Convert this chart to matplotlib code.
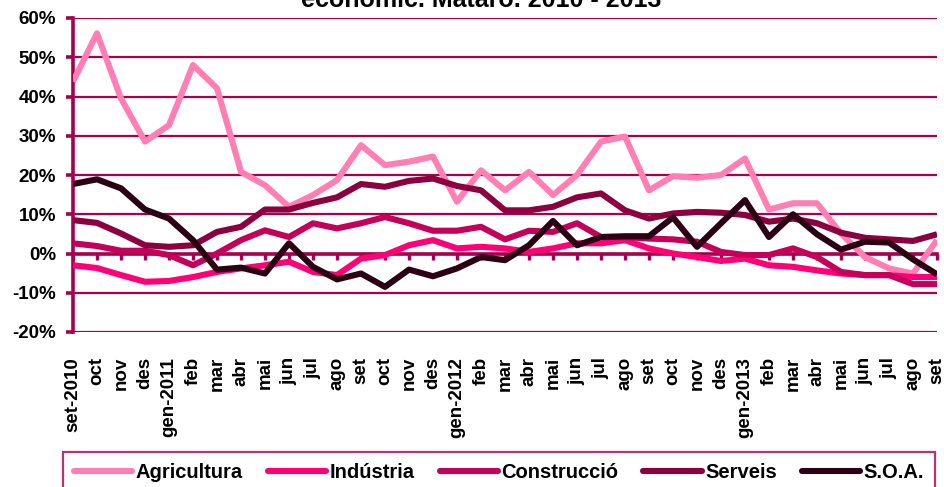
import matplotlib
matplotlib.use("Agg")
import matplotlib.pyplot as plt
from matplotlib.lines import Line2D

plt.rcParams['font.family'] = ['Liberation Sans', 'DejaVu Sans']
plt.rcParams['font.weight'] = 'bold'

months = ["set-2010", "oct", "nov", "des", "gen-2011", "feb", "mar", "abr", "mai", "jun",
          "jul", "ago", "set", "oct", "nov", "des", "gen-2012", "feb", "mar", "abr", "mai",
          "jun", "jul", "ago", "set", "oct", "nov", "des", "gen-2013", "feb", "mar", "abr",
          "mai", "jun", "jul", "ago", "set"]

agricultura = [43.8, 56.1, 39.5, 28.5, 32.7, 48.0, 42.1, 20.8, 17.4, 11.9,
               14.9, 18.7, 27.6, 22.5, 23.4, 24.7, 13.2, 21.2, 16.1, 20.8,
               14.9, 20.0, 28.5, 29.8, 16.1, 19.7, 19.3, 20.0, 24.2, 11.2,
               12.8, 12.8, 5.1, -0.9, -3.8, -5.1, 3.4]
industria = [-3.0, -3.7, -5.5, -7.2, -7.0, -6.0, -4.7, -3.8, -3.0, -2.1,
             -4.7, -5.5, -1.3, -0.4, 2.1, 3.4, 1.3, 1.7, 1.3, 0.4,
             1.3, 2.6, 2.6, 3.4, 1.3, 0.0, -0.9, -1.9, -1.3, -3.0,
             -3.4, -4.3, -5.1, -5.5, -5.5, -6.0, -6.0]
construccio = [2.6, 1.9, 0.7, 0.7, -0.4, -3.0, 0.0, 3.4, 5.9, 4.2,
               7.7, 6.4, 7.7, 9.3, 7.7, 5.8, 5.8, 6.8, 3.6, 5.8,
               5.5, 7.7, 4.2, 4.2, 3.8, 3.6, 3.0, 0.4, -0.4, -0.4,
               1.3, -0.9, -4.7, -5.5, -5.5, -7.8, -7.8]
serveis = [8.5, 7.8, 5.1, 2.1, 1.7, 2.1, 5.5, 6.8, 11.2, 11.2,
           12.9, 14.3, 17.7, 17.0, 18.5, 19.1, 17.2, 16.1, 11.0, 11.0,
           11.9, 14.3, 15.3, 11.0, 8.9, 10.2, 10.6, 10.4, 9.8, 8.1,
           8.9, 7.7, 5.3, 4.0, 3.6, 3.2, 4.9]
soa = [17.7, 18.9, 16.6, 11.2, 8.9, 3.4, -4.1, -3.6, -5.1, 2.6,
       -3.4, -6.6, -5.1, -8.5, -4.1, -5.8, -3.8, -0.9, -1.7, 2.1,
       8.3, 2.1, 4.2, 4.4, 4.4, 9.2, 1.7, 7.7, 13.6, 4.2,
       10.0, 4.9, 1.0, 3.0, 2.8, -1.5, -5.3]

series_names = ["Agricultura", "Indústria", "Construcció", "Serveis", "S.O.A."]
series_values = [agricultura, industria, construccio, serveis, soa]
series_colors = ["#FF7FB4", "#FF0076", "#C4005A", "#8C0040", "#2A0012"]
yticks = [-20, -10, 0, 10, 20, 30, 40, 50, 60]
title_text = "econòmic. Mataró. 2010 - 2013"

W, H = 944, 487
fig = plt.figure(figsize=(W / 100, H / 100), dpi=100)
ax = fig.add_axes([73 / W, 1 - 332 / H, (937 - 73) / W, (332 - 18) / H])

axis_color = "#A8004F"
x = list(range(len(months)))
for name, vals, col in zip(series_names, series_values, series_colors):
    ax.plot(x, vals, color=col, lw=4.4, solid_joinstyle='round', solid_capstyle='butt',
            label=name, zorder=3)

ax.set_xlim(0, len(months) - 1)
ax.set_ylim(-20, 60)
ax.set_yticks(yticks)
ax.set_yticklabels([f"{v}%" for v in yticks], fontsize=13.5, fontweight='bold')
ax.yaxis.grid(True, color=axis_color, lw=1.6)
ax.set_axisbelow(True)

for s in ['top', 'right']:
    ax.spines[s].set_visible(False)
ax.spines['left'].set_color(axis_color)
ax.spines['left'].set_linewidth(2.6)
ax.spines['bottom'].set_position(('data', 0))
ax.spines['bottom'].set_color(axis_color)
ax.spines['bottom'].set_linewidth(2.6)
ax.spines['bottom'].set_zorder(2)

ax.tick_params(axis='y', direction='out', length=5, width=2.6, color=axis_color, pad=7)
ax.set_xticks(x)
ax.tick_params(axis='x', direction='out', length=4, width=2.4, color=axis_color,
               labelbottom=False)

sec = ax.secondary_xaxis(0.0)
sec.set_xticks(x)
sec.set_xticklabels(months, rotation=90, fontsize=13.5, fontweight='bold', va='top', ha='center')
sec.tick_params(axis='x', length=0, pad=18)
sec.spines['bottom'].set_visible(False)

fig.text(481 / W, 1 - 7 / H, title_text, ha='center', va='baseline', fontsize=18,
         fontweight='bold')

handles = [Line2D([0], [0], color=c, lw=4.4, solid_capstyle='round') for c in series_colors]
leg = ax.legend(handles, series_names, loc='upper left',
                bbox_to_anchor=(63 / W, 1 - 500 / H, 872 / W, 48 / H),
                bbox_transform=fig.transFigure, ncol=5, mode='expand',
                frameon=True, fancybox=False, borderaxespad=0,
                handlelength=2.9, handletextpad=0.15, columnspacing=1.0,
                prop={'size': 14.5, 'weight': 'bold'}, borderpad=0.55)
leg.get_frame().set_edgecolor(axis_color)
leg.get_frame().set_linewidth(1.6)

fig.savefig("out.png", dpi=100)
